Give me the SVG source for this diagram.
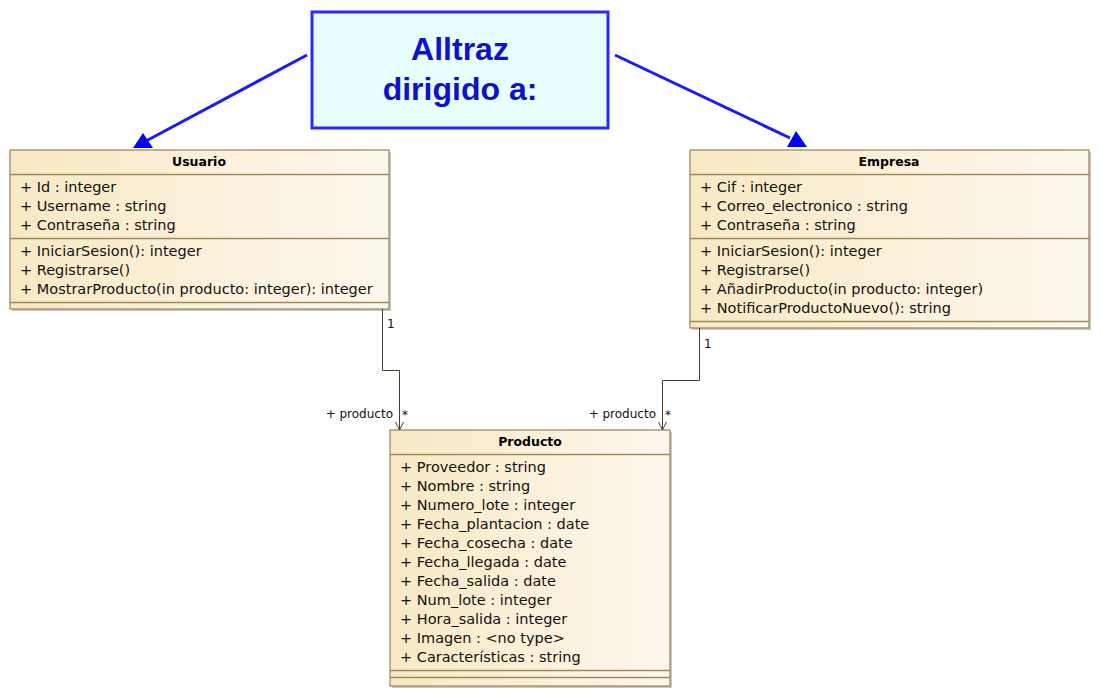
<svg xmlns="http://www.w3.org/2000/svg" width="1101" height="696" viewBox="0 0 1101 696">
<defs>
<linearGradient id="cls" x1="0" y1="0" x2="1" y2="0">
<stop offset="0" stop-color="#f8e9c4"/>
<stop offset="1" stop-color="#fdf8ee"/>
</linearGradient>
<marker id="open" markerWidth="10" markerHeight="10" refX="9" refY="5" orient="auto" markerUnits="userSpaceOnUse" viewBox="0 0 10 10">
<path d="M1,1 L9,5 L1,9" fill="none" stroke="#4a3c28" stroke-width="1"/>
</marker>
</defs>
<style>
.box{fill:url(#cls);stroke:#a08a5a;stroke-width:1.3}
.shadow{fill:#c8c8c8}
.sep{stroke:#a08a5a;stroke-width:1.3}
.hd{font-family:"DejaVu Sans",sans-serif;font-weight:bold;font-size:12.5px;fill:#000;text-anchor:middle}
.tx{font-family:"DejaVu Sans",Verdana,sans-serif;font-size:14.5px;fill:#111}
.lb{font-family:"DejaVu Sans",Verdana,sans-serif;font-size:12px;fill:#111}
.conn{fill:none;stroke:#4a3c28;stroke-width:1}
.blue{stroke:#1a1aff;stroke-width:3;fill:none}
.ttl{font-family:"Liberation Sans",Arial,sans-serif;font-weight:bold;font-size:32px;fill:#1010d0;text-anchor:middle}
</style>
<rect width="1101" height="696" fill="#fff"/>

<g id="nota">
<rect x="312" y="12" width="296" height="116" fill="#e8ffff" stroke="#2a2aff" stroke-width="3"/>
<text class="ttl" x="460" y="60">Alltraz</text>
<text class="ttl" x="460" y="100">dirigido a:</text>
</g>

<g id="Usuario">
<rect class="shadow" x="12" y="152" width="379" height="159"/>
<rect class="box" x="10" y="150" width="379" height="159"/>
<line class="sep" x1="10" y1="174.5" x2="389" y2="174.5"/>
<line class="sep" x1="10" y1="238.5" x2="389" y2="238.5"/>
<line class="sep" x1="10" y1="302.5" x2="389" y2="302.5"/>
<text class="hd" x="199" y="166">Usuario</text>
<text class="tx" x="20" y="192">+ Id : integer</text>
<text class="tx" x="20" y="211">+ Username : string</text>
<text class="tx" x="20" y="230">+ Contraseña : string</text>
<text class="tx" x="20" y="256">+ IniciarSesion(): integer</text>
<text class="tx" x="20" y="275">+ Registrarse()</text>
<text class="tx" x="20" y="294">+ MostrarProducto(in producto: integer): integer</text>
</g>

<g id="Empresa">
<rect class="shadow" x="692" y="152" width="399" height="178"/>
<rect class="box" x="690" y="150" width="399" height="178"/>
<line class="sep" x1="690" y1="174.5" x2="1089" y2="174.5"/>
<line class="sep" x1="690" y1="238.5" x2="1089" y2="238.5"/>
<line class="sep" x1="690" y1="321.5" x2="1089" y2="321.5"/>
<text class="hd" x="889" y="166">Empresa</text>
<text class="tx" x="700" y="192">+ Cif : integer</text>
<text class="tx" x="700" y="211">+ Correo_electronico : string</text>
<text class="tx" x="700" y="230">+ Contraseña : string</text>
<text class="tx" x="700" y="256">+ IniciarSesion(): integer</text>
<text class="tx" x="700" y="275">+ Registrarse()</text>
<text class="tx" x="700" y="294">+ AñadirProducto(in producto: integer)</text>
<text class="tx" x="700" y="313">+ NotificarProductoNuevo(): string</text>
</g>

<g id="Producto">
<rect class="shadow" x="392" y="432" width="280" height="256"/>
<rect class="box" x="390" y="430" width="280" height="256"/>
<line class="sep" x1="390" y1="454.5" x2="670" y2="454.5"/>
<line class="sep" x1="390" y1="670.5" x2="670" y2="670.5"/>
<line class="sep" x1="390" y1="677.5" x2="670" y2="677.5"/>
<text class="hd" x="530" y="446">Producto</text>
<text class="tx" x="400" y="472">+ Proveedor : string</text>
<text class="tx" x="400" y="491">+ Nombre : string</text>
<text class="tx" x="400" y="510">+ Numero_lote : integer</text>
<text class="tx" x="400" y="529">+ Fecha_plantacion : date</text>
<text class="tx" x="400" y="548">+ Fecha_cosecha : date</text>
<text class="tx" x="400" y="567">+ Fecha_llegada : date</text>
<text class="tx" x="400" y="586">+ Fecha_salida : date</text>
<text class="tx" x="400" y="605">+ Num_lote : integer</text>
<text class="tx" x="400" y="624">+ Hora_salida : integer</text>
<text class="tx" x="400" y="643">+ Imagen : &lt;no type&gt;</text>
<text class="tx" x="400" y="662">+ Características : string</text>
</g>

<g id="connectors">
<path class="conn" d="M382.5,309 V370.5 H399.5 V430" marker-end="url(#open)"/>
<path class="conn" d="M699.5,328 V380.5 H662.5 V430" marker-end="url(#open)"/>
<text class="lb" x="387" y="328">1</text>
<text class="lb" x="393" y="418" text-anchor="end">+ producto</text>
<text class="lb" x="402" y="419">*</text>
<text class="lb" x="704" y="348">1</text>
<text class="lb" x="656" y="418" text-anchor="end">+ producto</text>
<text class="lb" x="665" y="419">*</text>
<line class="blue" x1="307" y1="55" x2="146" y2="141"/>
<polygon points="143,133 133,148 153,148" fill="#0000ff"/>
<line class="blue" x1="615" y1="55" x2="790" y2="138"/>
<polygon points="796,131 787,147 807,147" fill="#0000ff"/>
</g>
</svg>
